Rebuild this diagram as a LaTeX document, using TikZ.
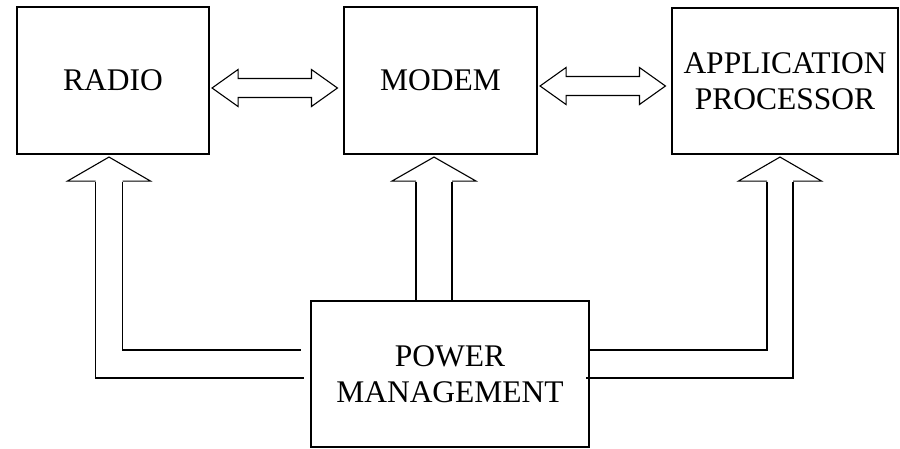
\documentclass[tikz,border=0pt]{standalone}
\usepackage{fontspec}
\setmainfont{Liberation Serif}
\usetikzlibrary{calc}
\tikzset{
	block/.style={draw, line width=1.1pt, align=center, inner sep=0pt, font=\fontsize{31.5}{36.5}\selectfont},
	fat/.style={line width=1.1pt, line join=miter},
}
% hollow double arrow between two tips (left tip, right tip)
\newcommand\sidearrow[2]{\draw[fat] (#1) -- ++(26,-18.5) -- ++(0,9) -- ($(#2)+(-26,-9.5)$) -- ++(0,-9) -- (#2) -- ++(-26,18.5) -- ++(0,-9) -- ($(#1)+(26,9.5)$) -- ++(0,9) -- cycle;}
% open arrow head pointing up: tip, head half width, shaft half width
\newcommand\uphead[3]{\draw[fat] ($(#1)+(-#3,24)$) -- ($(#1)+(-#2,24)$) -- (#1) -- ($(#1)+(#2,24)$) -- ($(#1)+(#3,24)$);}

\begin{document}
\begin{tikzpicture}[x=1pt,y=-1pt]
		%%%%% START %%%%%
		\useasboundingbox (0,0) rectangle (900,448);
		
		\node[block, minimum width=192, minimum height=147] (radio) at (113,80.5) {RADIO};
		\node[block, minimum width=193, minimum height=147] (modem) at (440.5,80.5) {MODEM};
		\node[block, minimum width=226, minimum height=146] (app) at (785,81) {APPLICATION\\PROCESSOR};
		\node[block, minimum width=278, minimum height=146] (power) at (450,374) {POWER\\MANAGEMENT};
		
		\coordinate (rm1) at ($(radio.east)+(2.5,7.5)$);
		\coordinate (rm2) at ($(modem.west)+(-6,7.5)$);
		\sidearrow{rm1}{rm2}
		
		\coordinate (ma1) at ($(modem.east)+(2.5,5.5)$);
		\coordinate (ma2) at ($(app.west)+(-6,5)$);
		\sidearrow{ma1}{ma2}
		
		\coordinate (rt) at ($(radio.south)+(-4,2.5)$);
		\uphead{rt}{41.5}{13.5}
		\draw[fat] ($(rt)+(-13.5,25)$) |- ($(power.west)+(-6.5,4)$);
		\draw[fat] ($(rt)+(13.5,25)$) |- ($(power.west)+(-9.5,-24)$);
		
		\coordinate (mt) at ($(modem.south)+(-6.5,2.5)$);
		\uphead{mt}{42}{18}
		\coordinate (ml) at ($(mt)+(-18,25)$);
		\coordinate (mr) at ($(mt)+(18,25)$);
		\draw[fat] (ml) -- (ml |- power.north);
		\draw[fat] (mr) -- (mr |- power.north);
		
		\coordinate (at) at ($(app.south)+(-5,2.5)$);
		\uphead{at}{41.5}{13}
		\draw[fat] ($(at)+(-13,25)$) |- ($(power.east)+(0,-24)$);
		\draw[fat] ($(at)+(13,25)$) |- ($(power.east)+(-4,4)$);
		%%%%% END %%%%%
\end{tikzpicture}
\end{document}
